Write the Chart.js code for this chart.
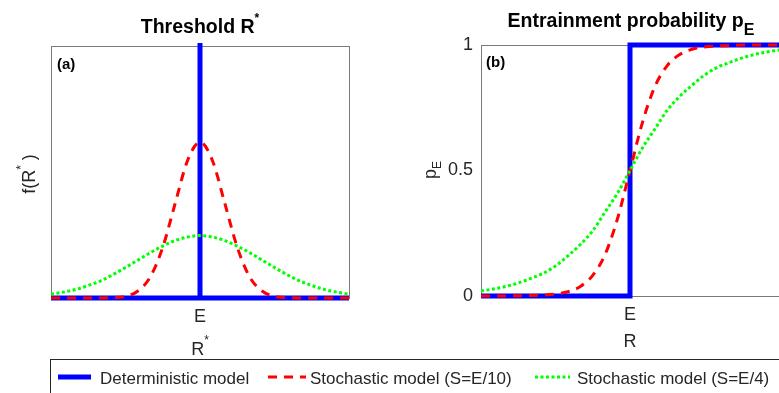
<!DOCTYPE html>
<html>
<head>
    <title>Threshold and entrainment probability</title>
    <script src="https://cdn.jsdelivr.net/npm/chart.js"></script>
    <style>
        body { margin: 0; overflow: hidden; background: #fff; width: 779px; height: 393px; position: relative; }
        canvas { position: absolute; left: 0; top: 0; }
    </style>
</head>
<body>
    <canvas id="chartA" width="779" height="393"></canvas>
    <canvas id="chartB" width="782" height="393"></canvas>

    <script>
        // R* / E along the x axis (E sits at 1)
        const rValues = [0.40, 0.45, 0.50, 0.55, 0.60, 0.65, 0.70, 0.75, 0.80, 0.85, 0.90, 0.95, 1.00,
                         1.05, 1.10, 1.15, 1.20, 1.25, 1.30, 1.35, 1.40, 1.45, 1.50, 1.55, 1.60];

        // panel (a): threshold density f(R*)
        const densityS10 = [0, 0, 0, 0, 0, 0.01, 0.04, 0.18, 0.54, 1.30, 2.42, 3.52, 3.99,
                            3.52, 2.42, 1.30, 0.54, 0.18, 0.04, 0.01, 0, 0, 0, 0, 0];
        const densityS4 = [0.10, 0.15, 0.22, 0.32, 0.44, 0.60, 0.78, 0.97, 1.16, 1.33, 1.47, 1.56, 1.60,
                           1.56, 1.47, 1.33, 1.16, 0.97, 0.78, 0.60, 0.44, 0.32, 0.22, 0.15, 0.10];
        const detDensityR = [0.40, 1.00, 1.00, 1.00, 1.60];
        const detDensity = [0, 0, 6.6, 0, 0];
        const densityMax = 6.45;

        // panel (b): entrainment probability pE
        const probS10 = [0, 0, 0, 0.001, 0.002, 0.004, 0.008, 0.017, 0.038, 0.082, 0.166, 0.309, 0.5,
                         0.691, 0.834, 0.918, 0.962, 0.983, 0.992, 0.996, 0.998, 1, 1, 1, 1];
        const probS4 = [0.02, 0.028, 0.038, 0.052, 0.07, 0.09, 0.12, 0.16, 0.205, 0.26, 0.335, 0.41, 0.5,
                        0.59, 0.665, 0.74, 0.795, 0.84, 0.88, 0.91, 0.93, 0.948, 0.962, 0.972, 0.98];
        const detProbR = [0.40, 1.00, 1.00, 1.60];
        const detProb = [0, 0, 1, 1];

        const probTicks = [0, 0.5, 1];
        const rTickLabel = 'E';
        const legendLabels = ['Deterministic model', 'Stochastic model (S=E/10)', 'Stochastic model (S=E/4)'];

        const FONT = '"Liberation Sans", Arial, sans-serif';
        const BLUE = '#0000ff', RED = '#ff0000', GREEN = '#00ff00';
        const TEXT = '#262626';

        const pts = (xs, ys) => xs.map((x, i) => ({ x: x, y: ys[i] }));
        const clip = { left: 3, right: 3, top: 3, bottom: 3 };

        function seriesSets(detX, detY, s10, s4) {
            return [
                { data: pts(detX, detY), borderColor: BLUE, borderWidth: 5, order: 2, tension: 0, clip: clip },
                { data: pts(rValues, s10), borderColor: RED, borderWidth: 3, borderDash: [9, 7], order: 1, cubicInterpolationMode: 'monotone', clip: clip },
                { data: pts(rValues, s4), borderColor: GREEN, borderWidth: 3, borderDash: [3, 2.5], order: 0, cubicInterpolationMode: 'monotone', clip: clip }
            ];
        }

        // text with super/subscripts: parts = [text, font, dy]
        function richText(ctx, x, y, parts, align) {
            let w = 0;
            parts.forEach(p => { ctx.font = p[1]; w += ctx.measureText(p[0]).width; });
            let cx = align === 'center' ? x - w / 2 : x;
            parts.forEach(p => {
                ctx.font = p[1];
                ctx.fillText(p[0], cx, y + (p[2] || 0));
                cx += ctx.measureText(p[0]).width;
            });
        }

        function richTextUp(ctx, x, y, parts) {
            ctx.save();
            ctx.translate(x, y);
            ctx.rotate(-Math.PI / 2);
            richText(ctx, 0, 0, parts, 'center');
            ctx.restore();
        }

        const boxPlugin = {
            id: 'box',
            beforeDatasetsDraw(chart) {
                const a = chart.chartArea, ctx = chart.ctx;
                ctx.save();
                ctx.strokeStyle = '#7a7a7a';
                ctx.lineWidth = 1;
                ctx.strokeRect(Math.round(a.left) + 0.5, Math.round(a.top) + 0.5,
                               Math.round(a.right - a.left), Math.round(a.bottom - a.top));
                ctx.restore();
            }
        };

        function xScale() {
            return {
                type: 'linear', min: 0.4, max: 1.6,
                afterBuildTicks: s => { s.ticks = [{ value: 1 }]; },
                afterFit: s => { s.height = 30; },
                ticks: { callback: () => rTickLabel, font: { family: FONT, size: 18 }, color: TEXT, padding: 8, maxRotation: 0, autoSkip: false },
                grid: { display: false, drawTicks: false },
                border: { display: false }
            };
        }

        const baseOptions = {
            responsive: false,
            animation: false,
            elements: { point: { radius: 0 } },
            plugins: { legend: { display: false }, tooltip: { enabled: false } }
        };

        const textA = {
            id: 'textA',
            afterDraw(chart) {
                const ctx = chart.ctx;
                ctx.save();
                ctx.textAlign = 'left';
                ctx.textBaseline = 'alphabetic';
                ctx.fillStyle = '#000';
                richText(ctx, 200, 33, [['Threshold R', 'bold 19.5px ' + FONT], ['*', 'bold 12px ' + FONT, -11]], 'center');
                ctx.font = 'bold 15px ' + FONT;
                ctx.fillText('(a)', 57, 69);
                ctx.fillStyle = TEXT;
                richTextUp(ctx, 35, 174, [['f(R', '18px ' + FONT], ['*', '12px ' + FONT, -10], [' )', '18px ' + FONT]]);
                richText(ctx, 200, 355, [['R', '18px ' + FONT], ['*', '12px ' + FONT, -11]], 'center');

                // legend
                ctx.strokeStyle = '#262626';
                ctx.lineWidth = 1;
                ctx.strokeRect(50.5, 359.5, 800, 100);
                const samples = [
                    { x0: 58, x1: 91, color: BLUE, width: 5, dash: [], tx: 100 },
                    { x0: 268, x1: 306, color: RED, width: 3, dash: [9, 7], tx: 310 },
                    { x0: 535, x1: 570, color: GREEN, width: 3, dash: [3, 2.5], tx: 577 }
                ];
                samples.forEach((s, i) => {
                    ctx.beginPath();
                    ctx.setLineDash(s.dash);
                    ctx.strokeStyle = s.color;
                    ctx.lineWidth = s.width;
                    ctx.moveTo(s.x0, 377);
                    ctx.lineTo(s.x1, 377);
                    ctx.stroke();
                    ctx.font = '17px ' + FONT;
                    ctx.fillStyle = TEXT;
                    ctx.fillText(legendLabels[i], s.tx, 384);
                });
                ctx.restore();
            }
        };

        const textB = {
            id: 'textB',
            afterDraw(chart) {
                const ctx = chart.ctx;
                ctx.save();
                ctx.textAlign = 'left';
                ctx.textBaseline = 'alphabetic';
                ctx.fillStyle = '#000';
                richText(ctx, 631, 27, [['Entrainment probability p', 'bold 19.5px ' + FONT], ['E', 'bold 16px ' + FONT, 8]], 'center');
                ctx.font = 'bold 15px ' + FONT;
                ctx.fillText('(b)', 486, 67);
                ctx.fillStyle = TEXT;
                richTextUp(ctx, 436, 170, [['p', '18px ' + FONT], ['E', '12px ' + FONT, 5]]);
                richText(ctx, 630, 347, [['R', '18px ' + FONT]], 'center');
                ctx.restore();
            }
        };

        new Chart(document.getElementById('chartA'), {
            type: 'line',
            data: { datasets: seriesSets(detDensityR, detDensity, densityS10, densityS4) },
            options: Object.assign({}, baseOptions, {
                layout: { padding: { left: 51, right: 430, top: 46, bottom: 65 } },
                scales: {
                    x: xScale(),
                    y: { display: false, min: 0, max: densityMax }
                }
            }),
            plugins: [boxPlugin, textA]
        });

        new Chart(document.getElementById('chartB'), {
            type: 'line',
            data: { datasets: seriesSets(detProbR, detProb, probS10, probS4) },
            options: Object.assign({}, baseOptions, {
                layout: { padding: { left: 441, right: 3, top: 45, bottom: 67 } },
                scales: {
                    x: xScale(),
                    y: {
                        min: 0, max: 1,
                        afterBuildTicks: s => { s.ticks = probTicks.map(v => ({ value: v })); },
                        afterFit: s => { s.width = 40; },
                        ticks: { callback: v => String(v), font: { family: FONT, size: 18 }, color: TEXT, padding: 8 },
                        grid: { display: false, drawTicks: false },
                        border: { display: false }
                    }
                }
            }),
            plugins: [boxPlugin, textB]
        });
    </script>
</body>
</html>
